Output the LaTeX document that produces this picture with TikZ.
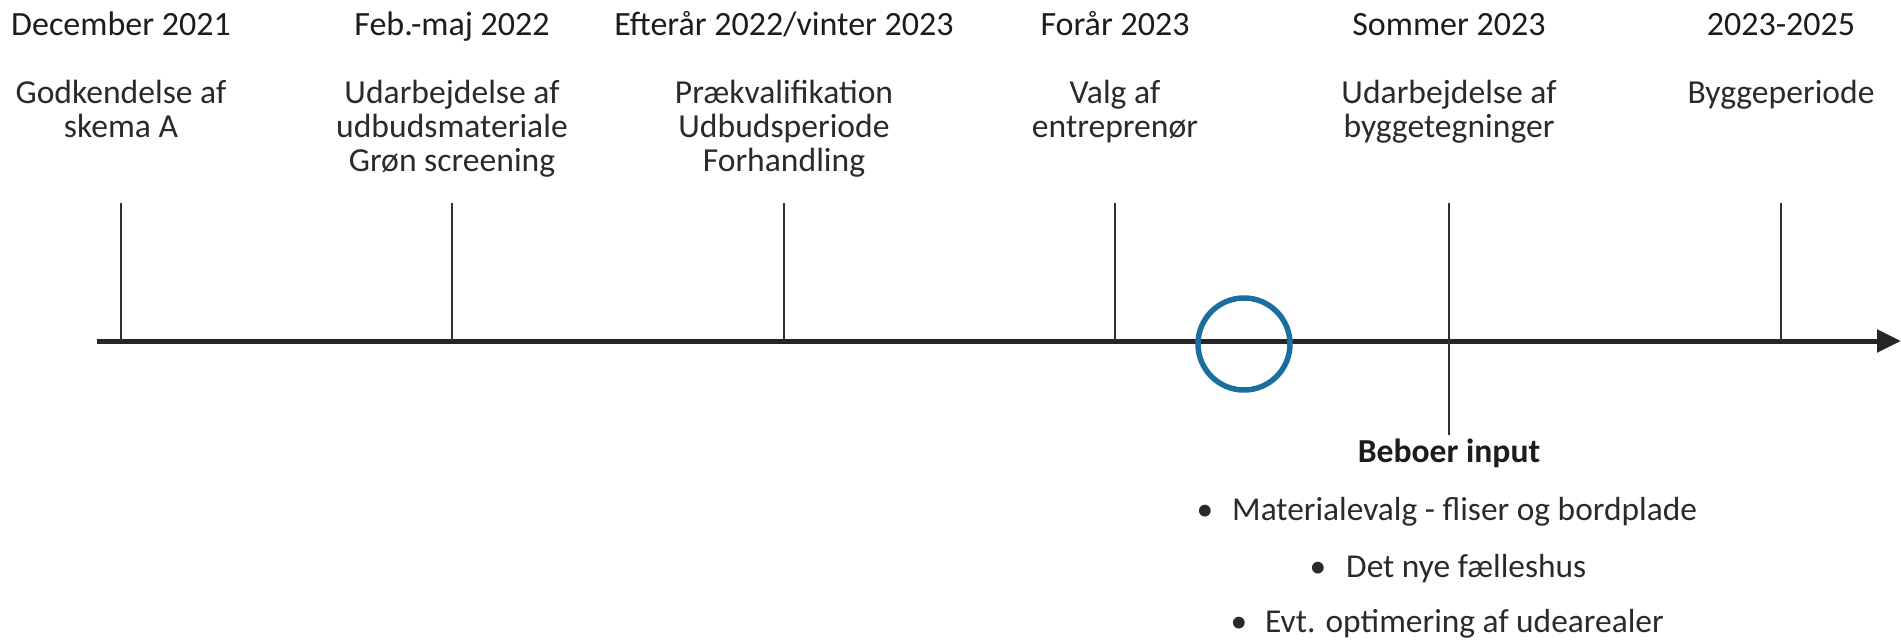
\documentclass[tikz,border=0pt]{standalone}
\usepackage{fontspec}
\setmainfont{Carlito}
\usetikzlibrary{arrows.meta}
\definecolor{axiscol}{HTML}{262626}
\definecolor{tickcol}{HTML}{303030}
\definecolor{txtcol}{HTML}{1C1C1C}
\definecolor{desccol}{HTML}{2A2A2A}
\definecolor{ringcol}{HTML}{1B6EA0}
\tikzset{
  datelbl/.style={anchor=base, inner sep=0pt, text=txtcol, font=\fontsize{34}{40}\selectfont},
  desclbl/.style={anchor=base, inner sep=0pt, text=desccol, font=\fontsize{33.6}{40}\selectfont},
  boldlbl/.style={anchor=base, inner sep=0pt, text=txtcol, font=\fontsize{33.6}{40}\selectfont\bfseries},
  itemlbl/.style={anchor=base west, inner sep=0pt, text=desccol, font=\fontsize{33.4}{40}\selectfont},
  bulletlbl/.style={anchor=base, inner sep=0pt, text=desccol, font=\fontsize{33.4}{40}\selectfont},
  tickline/.style={draw=tickcol, line width=1.4pt},
  axisline/.style={draw=axiscol, line width=5pt, -{Triangle[length=24pt,width=22pt]}},
  ring/.style={draw=ringcol, line width=5.5pt, circle, minimum size=92pt, inner sep=0pt}
}
\begin{document}
\begin{tikzpicture}[x=1pt,y=-1pt]
\useasboundingbox (0,0) rectangle (1901,642);
% axis
\coordinate (axs) at (97,341);
\coordinate (axe) at (1901,341);
\draw[axisline] (axs) -- (axe);
% ticks
\foreach \i/\x in {1/121,2/452,3/784,4/1115,5/1449,6/1781}{
  \coordinate (top\i) at (\x,203);
  \coordinate (bot\i) at (\x,341);
}
\coordinate (bot5b) at (1449,435);
\draw[tickline] (top1) -- (bot1);
\draw[tickline] (top2) -- (bot2);
\draw[tickline] (top3) -- (bot3);
\draw[tickline] (top4) -- (bot4);
\draw[tickline] (top5) -- (bot5b);
\draw[tickline] (top6) -- (bot6);
% ring
\node[ring] (ringnode) at (1244,344) {};
% dates
\node[datelbl] (d1) at (121,36) {December 2021};
\node[datelbl] (d2) at (452,36) {Feb.-maj 2022};
\node[datelbl] (d3) at (784,36) {Efterår 2022/vinter 2023};
\node[datelbl] (d4) at (1115,36) {Forår 2023};
\node[datelbl] (d5) at (1449,36) {Sommer 2023};
\node[datelbl] (d6) at (1781,36) {2023-2025};
% descriptions
\node[desclbl] (e1a) at (121,103) {Godkendelse af};
\node[desclbl] (e1b) at (121,137) {skema A};
\node[desclbl] (e2a) at (452,103) {Udarbejdelse af};
\node[desclbl] (e2b) at (452,137) {udbudsmateriale};
\node[desclbl] (e2c) at (452,171) {Grøn screening};
\node[desclbl] (e3a) at (784,103) {Prækvalifikation};
\node[desclbl] (e3b) at (784,137) {Udbudsperiode};
\node[desclbl] (e3c) at (784,171) {Forhandling};
\node[desclbl] (e4a) at (1115,103) {Valg af};
\node[desclbl] (e4b) at (1115,137) {entreprenør};
\node[desclbl] (e5a) at (1449,103) {Udarbejdelse af};
\node[desclbl] (e5b) at (1449,137) {byggetegninger};
\node[desclbl] (e6a) at (1781,103) {Byggeperiode};
% beboer input
\node[boldlbl] (bi) at (1449,462) {Beboer input};
\node[bulletlbl] (b1) at (1205,520) {•};
\node[itemlbl] (i1) at (1232,520) {Materialevalg - fliser og bordplade};
\node[bulletlbl] (b2) at (1318,577) {•};
\node[itemlbl] (i2) at (1346,577) {Det nye fælleshus};
\node[bulletlbl] (b3) at (1239,632) {•};
\node[itemlbl] (i3) at (1265,632) {Evt. optimering af udearealer};
\end{tikzpicture}
\end{document}
